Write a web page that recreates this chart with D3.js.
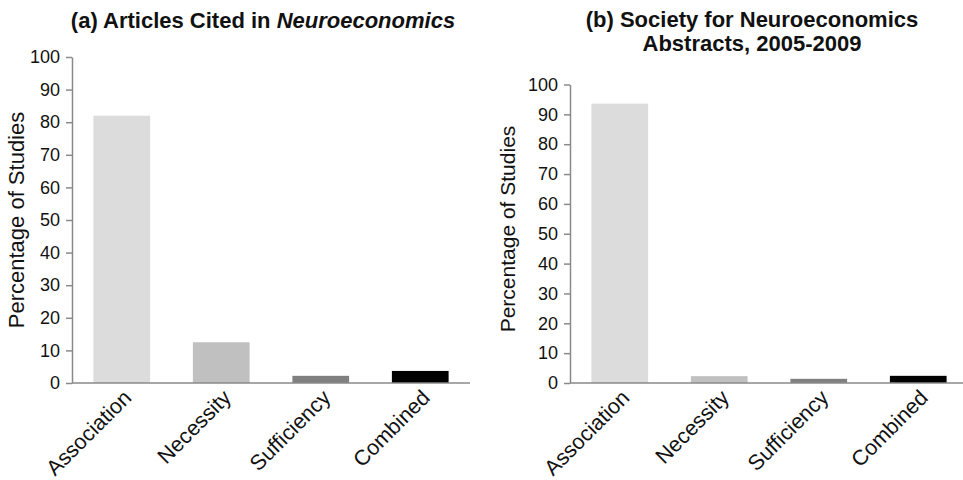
<!DOCTYPE html>
<html><head><meta charset="utf-8">
<script src="https://cdn.jsdelivr.net/npm/d3@7"></script>
<style>body{margin:0;background:#fff}text{font-family:Arial,"Liberation Sans",sans-serif}</style>
</head><body>
<svg id="c" width="963" height="480"></svg>
<script>
const categories = ["Association","Necessity","Sufficiency","Combined"];
const valuesA = [82, 12.5, 2.2, 3.7];
const valuesB = [93.6, 2.3, 1.4, 2.4];
const yTicks = [0,10,20,30,40,50,60,70,80,90,100];
const barColors = ["#dcdcdc","#c0c0c0","#808080","#000000"];
const titleA = ["(a) Articles Cited in ", "Neuroeconomics"];
const titleB = ["(b) Society for Neuroeconomics", "Abstracts, 2005-2009"];
const yLabel = "Percentage of Studies";

const svg = d3.select("#c");
const axisColor = "#8a8a8a";

function panel(values, cfg) {
  const g = svg.append("g");
  const x = d3.scaleBand().domain(categories).range([cfg.x0, cfg.x1]).paddingInner(0.43).paddingOuter(0.215);
  const y = d3.scaleLinear().domain([0,100]).range([cfg.yBottom, cfg.yTop]);
  g.selectAll("rect.bar").data(values).enter().append("rect")
    .attr("x", (d,i)=>x(categories[i])).attr("width", x.bandwidth())
    .attr("y", d=>y(d)).attr("height", d=>y(0)-y(d))
    .attr("fill", (d,i)=>barColors[i]);
  const ya = g.append("g").attr("transform",`translate(${cfg.x0},0)`)
    .call(d3.axisLeft(y).tickValues(yTicks).tickSize(6).tickPadding(6).tickSizeOuter(0));
  ya.select(".domain").attr("stroke", axisColor).attr("stroke-width",1.5);
  ya.selectAll(".tick line").attr("stroke", axisColor).attr("stroke-width",1.5);
  ya.selectAll(".tick text").attr("font-size", cfg.tickFont).attr("fill","#111").attr("font-family","Arial");
  g.append("line").attr("x1",cfg.x0).attr("x2",cfg.xAxisEnd).attr("y1",y(0)).attr("y2",y(0))
    .attr("stroke",axisColor).attr("stroke-width",1.5);
  categories.forEach(c=>{
    const cx = x(c)+x.bandwidth()/2 + cfg.labDx;
    const cy = y(0) + cfg.labDy;
    g.append("text").attr("transform",`translate(${cx},${cy}) rotate(-45)`)
      .attr("text-anchor","end").attr("font-size",cfg.catFont).attr("fill","#111").text(c);
  });
  g.append("text").attr("transform",`translate(${cfg.yLabX},${cfg.yLabY}) rotate(-90)`)
    .attr("text-anchor","middle").attr("font-size",cfg.yLabFont).attr("fill","#111").text(yLabel);
  return g;
}

panel(valuesA, {x0:72, x1:470, xAxisEnd:470, yTop:57, yBottom:383, tickFont:18, catFont:21.5, labDx:11, labDy:16, yLabX:24, yLabY:220, yLabFont:22});
panel(valuesB, {x0:570, x1:968, xAxisEnd:963, yTop:84.5, yBottom:383, tickFont:18, catFont:21.5, labDx:11, labDy:16, yLabX:515, yLabY:229, yLabFont:21});

const tA = svg.append("text").attr("x",263).attr("y",28).attr("text-anchor","middle")
  .attr("font-size",22).attr("font-weight","bold").attr("fill","#111");
tA.append("tspan").text(titleA[0]);
tA.append("tspan").attr("font-style","italic").text(titleA[1]);
titleB.forEach((t,i)=>{
  svg.append("text").attr("x",752).attr("y",27+i*24).attr("text-anchor","middle")
    .attr("font-size",22).attr("font-weight","bold").attr("fill","#111").text(t);
});
</script>
</body></html>
